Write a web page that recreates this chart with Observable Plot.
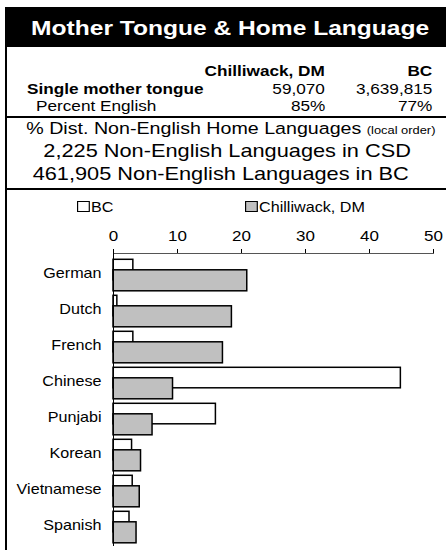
<!DOCTYPE html>
<html>
<head>
<meta charset="utf-8">
<script src="https://cdn.jsdelivr.net/npm/d3@7"></script>
<script src="https://cdn.jsdelivr.net/npm/@observablehq/plot@0.6"></script>
<style>
  html, body { margin: 0; padding: 0; background: #fff; }
  body { font-family: "Liberation Sans", Arial, sans-serif; color: #000; }
  #page { position: relative; width: 446px; height: 550px; overflow: hidden; }
  .abs { position: absolute; white-space: nowrap; }
  .inner { display: inline-block; }
  #titlebar { position: absolute; left: 5px; top: 7px; width: 441px; height: 40px; background: #000; }
  .hline { position: absolute; left: 5px; width: 441px; height: 2px; background: #000; }
  #vline { position: absolute; left: 5px; top: 7px; width: 2px; height: 543px; background: #000; }
  .sq { display: inline-block; width: 9px; height: 9px; border: 1px solid #000; margin-right: 1px; vertical-align: 0px; }
  #chart { position: absolute; left: 0; top: 190px; }
</style>
</head>
<body>
<div id="page">
  <div id="vline"></div>
  <div id="titlebar"></div>
  <div id="head"></div>
  <div class="hline" style="top:116px"></div>
  <div class="hline" style="top:188px"></div>
  <div id="chart"></div>
  <div id="legend"></div>
</div>
<script>
// ---- data ----
const titleText = "Mother Tongue & Home Language";
const tableColumns = ["Chilliwack, DM", "BC"];
const tableRowLabels = ["Single mother tongue", "Percent English"];
const tableChilliwack = ["59,070", "85%"];
const tableBC = ["3,639,815", "77%"];

const distHeading = "% Dist. Non-English Home Languages";
const distHeadingNote = "(local order)";
const distLines = ["2,225 Non-English Languages in CSD", "461,905 Non-English Languages in BC"];

const seriesNames = ["BC", "Chilliwack, DM"];
const seriesFills = ["#ffffff", "#c0c0c0"];
const languages = ["German", "Dutch", "French", "Chinese", "Punjabi", "Korean", "Vietnamese", "Spanish"];
const bcValues = [3.1, 0.6, 3.1, 44.9, 16.0, 2.9, 3.0, 2.5];
const chilliwackValues = [20.9, 18.5, 17.1, 9.3, 6.1, 4.3, 4.1, 3.6];
const xTicks = [0, 10, 20, 30, 40, 50];

const SX = 1.17; // horizontal stretch of the reference lettering

// ---- helpers ----
function place(parent, content, {left, right, center, baseline, size, bold = false, color}) {
  const d = document.createElement("div");
  d.className = "abs";
  d.style.fontSize = size + "px";
  d.style.lineHeight = size + "px";
  d.style.top = (baseline - 0.8465 * size) + "px";
  if (bold) d.style.fontWeight = "bold";
  if (color) d.style.color = color;
  const inner = document.createElement("span");
  inner.className = "inner";
  if (typeof content === "string") inner.textContent = content; else inner.appendChild(content);
  let origin;
  if (center !== undefined) {
    d.style.left = (center - 300) + "px"; d.style.width = "600px"; d.style.textAlign = "center"; origin = "center";
  } else if (right !== undefined) {
    d.style.right = (446 - right) + "px"; d.style.textAlign = "right"; origin = "right";
  } else { d.style.left = left + "px"; origin = "left"; }
  inner.style.transformOrigin = origin + " center";
  inner.style.transform = `scaleX(${SX})`;
  d.appendChild(inner);
  parent.appendChild(d);
  return d;
}

const head = document.getElementById("head");
// title
place(head, titleText, {center: 230, baseline: 34.5, size: 21, bold: true, color: "#fff"});

// table
place(head, tableColumns[0], {right: 325, baseline: 76, size: 14.7, bold: true});
place(head, tableColumns[1], {right: 432, baseline: 76, size: 14.7, bold: true});
place(head, tableRowLabels[0], {left: 27, baseline: 94, size: 14.7, bold: true});
place(head, tableChilliwack[0], {right: 325, baseline: 94, size: 14.7});
place(head, tableBC[0], {right: 432, baseline: 94, size: 14.7});
place(head, tableRowLabels[1], {left: 36, baseline: 111, size: 14.7});
place(head, tableChilliwack[1], {right: 325, baseline: 111, size: 14.7});
place(head, tableBC[1], {right: 432, baseline: 111, size: 14.7});

// distribution header
const h = document.createElement("span");
h.appendChild(document.createTextNode(distHeading + " "));
const note = document.createElement("span");
note.style.fontSize = "11px";
note.textContent = distHeadingNote;
h.appendChild(note);
place(head, h, {center: 231, baseline: 135, size: 16.8});
place(head, distLines[0], {center: 227, baseline: 158, size: 18.6});
place(head, distLines[1], {center: 221, baseline: 181, size: 18.6});

// legend
const leg = document.getElementById("legend");
[77, 245].forEach((x, i) => {
  const s = document.createElement("span");
  const sq = document.createElement("span");
  sq.className = "sq";
  sq.style.background = seriesFills[i];
  s.appendChild(sq);
  s.appendChild(document.createTextNode(seriesNames[i]));
  place(leg, s, {left: x, baseline: 213, size: 13.8});
});

// ---- chart ----
const data = languages.map((lang, i) => ({lang, bc: bcValues[i], chilliwack: chilliwackValues[i]}));

const chart = Plot.plot({
  width: 446,
  height: 360,
  marginTop: 63,
  marginBottom: 5,
  marginLeft: 113,
  marginRight: 13,
  style: {fontFamily: "'Liberation Sans', Arial, sans-serif", fontSize: "15px", color: "#000", background: "transparent"},
  x: {domain: [0, 50], ticks: xTicks},
  y: {domain: languages, padding: 0},
  marks: [
    Plot.barX(data, {y: "lang", x: "bc", fill: seriesFills[0], stroke: "#000", strokeWidth: 1.5, insetTop: 4.3, insetBottom: 11.2}),
    Plot.barX(data, {y: "lang", x: "chilliwack", fill: seriesFills[1], stroke: "#000", strokeWidth: 1.5, insetTop: 14.8, insetBottom: 0.2}),
    Plot.axisX({anchor: "top", ticks: xTicks, tickSize: 5, tickPadding: 8, label: null, fontSize: 14.5, stroke: "#000"}),
    Plot.axisY({anchor: "left", tickSize: 0, tickPadding: 12, label: null, fontSize: 13.8}),
    Plot.frame({anchor: "top", stroke: "#555", strokeWidth: 1}),
    Plot.frame({anchor: "left", stroke: "#000", strokeWidth: 1})
  ]
});
// stretch tick labels horizontally about their anchor, like the reference lettering
d3.select(chart).selectAll("g[aria-label$='tick label'] text").each(function () {
  const t = this.getAttribute("transform") || "";
  if (/translate/.test(t) && !this.hasAttribute("x")) this.setAttribute("transform", t + ` scale(${SX},1)`);
});
document.getElementById("chart").appendChild(chart);
</script>
</body>
</html>
